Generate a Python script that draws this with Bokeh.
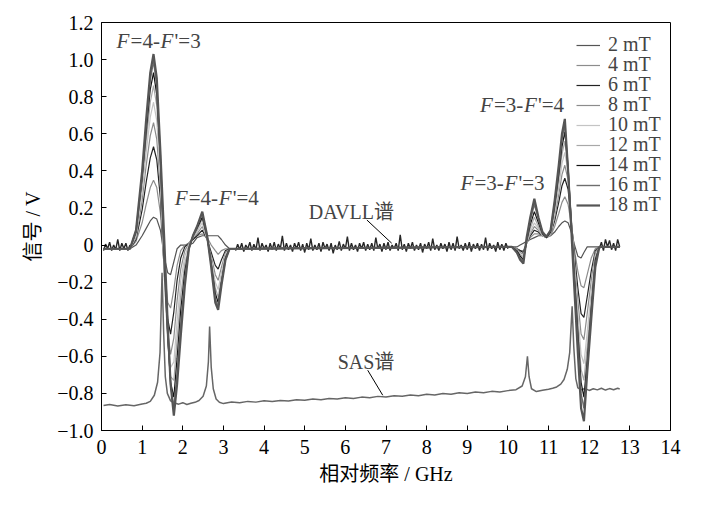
import numpy as np
from bokeh.plotting import figure
from bokeh.models import FixedTicker, CustomJSTickFormatter, Label, Legend, LegendItem
from bokeh.embed import file_html
from bokeh.resources import INLINE

# ---- data ----
fields = ["2 mT", "4 mT", "6 mT", "8 mT", "10 mT", "12 mT", "14 mT", "16 mT", "18 mT"]

# common frequency grid of the DAVLL traces (GHz)
freq = [0.05, 0.70, 0.85, 1.00, 1.10, 1.20, 1.28, 1.36, 1.45,
        1.55, 1.63, 1.70, 1.78, 1.86, 1.95, 2.05, 2.15, 2.25, 2.35,
        2.48, 2.60, 2.70, 2.80, 2.87, 2.95, 3.05, 3.15, 3.25,
        9.95, 10.10, 10.22, 10.30, 10.38, 10.46, 10.55, 10.65, 10.75, 10.85,
        10.95, 11.05, 11.15, 11.25, 11.33, 11.40, 11.48, 11.56, 11.64, 11.72,
        11.80, 11.87, 11.95, 12.05, 12.15, 12.25, 12.75]

davll_2 = [-0.02, -0.02, 0.00, 0.05, 0.09, 0.13, 0.15, 0.14, 0.08,
           -0.07, -0.15, -0.16, -0.09, -0.02, 0.00, 0.00, 0.00, 0.01, 0.04,
           0.05, 0.05, 0.05, 0.05, 0.05, 0.03, 0.00, -0.02, -0.02,
           -0.01, -0.01, -0.01, 0.00, 0.01, 0.02, 0.03, 0.04, 0.05, 0.05,
           0.05, 0.05, 0.07, 0.10, 0.12, 0.13, 0.12, 0.07, 0.00, -0.06,
           -0.07, -0.04, -0.01, -0.01, -0.01, -0.01, -0.01]
davll_4 = [-0.02, -0.02, 0.02, 0.12, 0.22, 0.31, 0.35, 0.31, 0.17,
           -0.13, -0.31, -0.34, -0.24, -0.11, -0.03, 0.00, 0.01, 0.03, 0.05,
           0.06, 0.04, 0.00, -0.03, -0.05, -0.03, -0.02, -0.02, -0.02,
           -0.01, -0.01, -0.02, -0.03, -0.03, 0.01, 0.04, 0.06, 0.06, 0.05,
           0.04, 0.05, 0.10, 0.17, 0.23, 0.26, 0.22, 0.11, -0.03, -0.14,
           -0.22, -0.23, -0.16, -0.07, -0.02, -0.01, -0.01]
davll_6 = [-0.02, -0.02, 0.03, 0.19, 0.34, 0.47, 0.53, 0.46, 0.25,
           -0.17, -0.40, -0.48, -0.36, -0.19, -0.07, -0.01, 0.01, 0.03, 0.05,
           0.08, 0.03, -0.04, -0.11, -0.13, -0.08, -0.03, -0.02, -0.02,
           -0.01, -0.01, -0.02, -0.03, -0.04, 0.01, 0.05, 0.08, 0.07, 0.05,
           0.04, 0.06, 0.13, 0.23, 0.32, 0.36, 0.30, 0.13, -0.06, -0.23,
           -0.37, -0.39, -0.28, -0.14, -0.03, -0.01, -0.01]
davll_8 = [-0.02, -0.02, 0.04, 0.24, 0.43, 0.59, 0.66, 0.57, 0.31,
           -0.19, -0.47, -0.59, -0.50, -0.30, -0.13, -0.03, 0.01, 0.04, 0.06,
           0.10, 0.03, -0.06, -0.16, -0.19, -0.12, -0.04, -0.02, -0.02,
           -0.01, -0.01, -0.02, -0.04, -0.05, 0.01, 0.06, 0.10, 0.08, 0.05,
           0.04, 0.06, 0.15, 0.27, 0.38, 0.43, 0.35, 0.14, -0.09, -0.30,
           -0.48, -0.51, -0.37, -0.19, -0.04, -0.01, -0.01]
davll_10 = [-0.02, -0.02, 0.05, 0.29, 0.50, 0.69, 0.77, 0.67, 0.36,
            -0.19, -0.51, -0.66, -0.63, -0.41, -0.19, -0.06, 0.00, 0.04, 0.07,
            0.12, 0.03, -0.08, -0.20, -0.24, -0.15, -0.05, -0.02, -0.02,
            -0.01, -0.01, -0.03, -0.05, -0.06, 0.01, 0.07, 0.12, 0.09, 0.05,
            0.04, 0.06, 0.17, 0.31, 0.44, 0.50, 0.39, 0.14, -0.12, -0.37,
            -0.59, -0.64, -0.47, -0.25, -0.06, -0.01, -0.01]
davll_12 = [-0.02, -0.02, 0.06, 0.33, 0.56, 0.77, 0.86, 0.75, 0.41,
            -0.17, -0.52, -0.71, -0.73, -0.51, -0.27, -0.10, -0.01, 0.04, 0.08,
            0.14, 0.04, -0.09, -0.23, -0.28, -0.18, -0.06, -0.02, -0.02,
            -0.01, -0.01, -0.03, -0.05, -0.07, 0.01, 0.09, 0.15, 0.10, 0.05,
            0.04, 0.07, 0.19, 0.35, 0.49, 0.56, 0.41, 0.13, -0.15, -0.42,
            -0.67, -0.73, -0.55, -0.30, -0.07, -0.01, -0.01]
davll_14 = [-0.02, -0.02, 0.07, 0.36, 0.61, 0.84, 0.93, 0.81, 0.45,
            -0.13, -0.50, -0.74, -0.82, -0.61, -0.35, -0.14, -0.02, 0.05, 0.09,
            0.15, 0.04, -0.10, -0.26, -0.31, -0.20, -0.07, -0.02, -0.02,
            -0.01, -0.01, -0.03, -0.06, -0.08, 0.02, 0.11, 0.18, 0.12, 0.06,
            0.04, 0.07, 0.21, 0.38, 0.53, 0.61, 0.42, 0.12, -0.18, -0.47,
            -0.74, -0.82, -0.62, -0.34, -0.08, -0.01, -0.01]
davll_16 = [-0.02, -0.02, 0.08, 0.38, 0.65, 0.89, 0.99, 0.86, 0.48,
            -0.07, -0.47, -0.75, -0.88, -0.69, -0.42, -0.18, -0.02, 0.05, 0.10,
            0.17, 0.05, -0.11, -0.29, -0.33, -0.21, -0.08, -0.02, -0.02,
            -0.01, -0.01, -0.04, -0.07, -0.09, 0.03, 0.13, 0.22, 0.14, 0.07,
            0.045, 0.08, 0.23, 0.41, 0.57, 0.65, 0.42, 0.10, -0.22, -0.52,
            -0.80, -0.88, -0.66, -0.37, -0.10, -0.01, -0.01]
davll_18 = [-0.02, -0.02, 0.08, 0.40, 0.68, 0.93, 1.03, 0.90, 0.50,
            0.00, -0.43, -0.75, -0.92, -0.75, -0.49, -0.22, -0.02, 0.05, 0.10,
            0.18, 0.05, -0.12, -0.31, -0.35, -0.22, -0.08, -0.02, -0.02,
            -0.01, -0.01, -0.04, -0.08, -0.10, 0.04, 0.15, 0.25, 0.15, 0.07,
            0.045, 0.08, 0.24, 0.43, 0.60, 0.68, 0.40, 0.08, -0.26, -0.58,
            -0.88, -0.95, -0.69, -0.40, -0.12, -0.01, -0.01]

# noisy DAVLL baseline, three stretches
noise_left_x = [0.05, 0.10, 0.15, 0.20, 0.25, 0.30, 0.35, 0.40, 0.45, 0.50, 0.55, 0.60, 0.65, 0.70]
noise_left_y = [-0.03, 0.005, -0.02, 0.015, -0.03, 0.00, -0.025, 0.03, -0.03, 0.01,
                -0.02, 0.01, -0.03, 0.00]
noise_mid_x = [3.30, 3.35, 3.40, 3.45, 3.50, 3.55, 3.60, 3.65, 3.70, 3.75,
               3.80, 3.85, 3.90, 3.95, 4.00, 4.05, 4.10, 4.15, 4.20, 4.25,
               4.30, 4.35, 4.40, 4.45, 4.50, 4.55, 4.60, 4.65, 4.70, 4.75,
               4.80, 4.85, 4.90, 4.95, 5.00, 5.05, 5.10, 5.15, 5.20, 5.25,
               5.30, 5.35, 5.40, 5.45, 5.50, 5.55, 5.60, 5.65, 5.70, 5.75,
               5.80, 5.85, 5.90, 5.95, 6.00, 6.05, 6.10, 6.15, 6.20, 6.25,
               6.30, 6.35, 6.40, 6.45, 6.50, 6.55, 6.60, 6.65, 6.70, 6.75,
               6.80, 6.85, 6.90, 6.95, 7.00, 7.05, 7.10, 7.15, 7.20, 7.25,
               7.30, 7.35, 7.40, 7.45, 7.50, 7.55, 7.60, 7.65, 7.70, 7.75,
               7.80, 7.85, 7.90, 7.95, 8.00, 8.05, 8.10, 8.15, 8.20, 8.25,
               8.30, 8.35, 8.40, 8.45, 8.50, 8.55, 8.60, 8.65, 8.70, 8.75,
               8.80, 8.85, 8.90, 8.95, 9.00, 9.05, 9.10, 9.15, 9.20, 9.25,
               9.30, 9.35, 9.40, 9.45, 9.50, 9.55, 9.60, 9.65, 9.70, 9.75,
               9.80, 9.85, 9.90, 9.95, 10.00]
noise_mid_y = [-0.03, 0.005, -0.025, 0.01, -0.035, 0.00, -0.02, 0.015, -0.03, 0.005,
               -0.025, 0.04, -0.03, 0.01, -0.02, 0.00, -0.035, 0.01, -0.025, 0.015,
               -0.03, 0.005, -0.02, 0.05, -0.03, 0.01, -0.025, 0.00, -0.035, 0.01,
               -0.02, 0.015, -0.03, 0.005, -0.04, 0.01, -0.025, 0.035, -0.03, 0.00,
               -0.025, 0.01, -0.035, 0.015, -0.02, 0.005, -0.03, 0.01, -0.045, 0.00,
               -0.025, 0.02, -0.03, 0.005, -0.02, 0.045, -0.03, 0.01, -0.025, 0.00,
               -0.035, 0.01, -0.02, 0.015, -0.03, 0.005, -0.025, 0.01, -0.03, 0.04,
               -0.02, 0.005, -0.035, 0.01, -0.025, 0.015, -0.03, 0.00, -0.02, 0.01,
               -0.03, 0.055, -0.025, 0.005, -0.035, 0.01, -0.02, 0.015, -0.03, 0.00,
               -0.025, 0.01, -0.04, 0.005, -0.02, 0.015, -0.03, 0.035, -0.025, 0.00,
               -0.03, 0.01, -0.02, 0.005, -0.035, 0.015, -0.025, 0.01, -0.03, 0.045,
               -0.02, 0.00, -0.03, 0.01, -0.025, 0.015, -0.035, 0.005, -0.02, 0.01,
               -0.03, 0.005, -0.025, 0.04, -0.03, 0.01, -0.02, 0.00, -0.035, 0.015,
               -0.025, 0.005, -0.03, 0.01, -0.02]
noise_right_x = [12.25, 12.30, 12.35, 12.40, 12.45, 12.50, 12.55, 12.60, 12.65, 12.70, 12.75]
noise_right_y = [-0.02, 0.015, -0.03, 0.03, -0.01, 0.025, -0.025, 0.01, -0.03, 0.03, -0.01]

# saturated absorption spectrum
sas_x = [0.05, 0.2, 0.4, 0.6, 0.8, 1.0, 1.1, 1.2, 1.3, 1.38, 1.44, 1.49, 1.53, 1.57, 1.62,
         1.7, 1.8, 1.9, 2.0, 2.1, 2.2, 2.3, 2.4, 2.5, 2.58, 2.63, 2.66, 2.70, 2.75, 2.82, 2.9, 3.0,
         3.2, 3.4, 3.6, 3.8, 4.0, 4.2, 4.4, 4.6, 4.8, 5.0, 5.2, 5.4, 5.6, 5.8, 6.0, 6.2, 6.4,
         6.6, 6.8, 7.0, 7.2, 7.4, 7.6, 7.8, 8.0, 8.2, 8.4, 8.6, 8.8, 9.0, 9.2, 9.4, 9.6, 9.8, 10.0,
         10.2, 10.35, 10.43, 10.48, 10.52, 10.58, 10.7, 10.85, 11.0, 11.1, 11.2, 11.3, 11.38,
         11.46, 11.52, 11.58, 11.62, 11.67, 11.72, 11.8, 11.9, 12.0, 12.1, 12.2, 12.3, 12.4,
         12.5, 12.6, 12.7, 12.75]
sas_y = [-0.865, -0.860, -0.868, -0.861, -0.866, -0.857, -0.853, -0.843, -0.81, -0.74, -0.58,
         -0.15, -0.48, -0.71, -0.80,
         -0.84, -0.852, -0.858, -0.850, -0.860, -0.853, -0.848, -0.838, -0.815, -0.76, -0.63,
         -0.44, -0.66, -0.775, -0.83, -0.848, -0.855,
         -0.846, -0.850, -0.843, -0.847, -0.840, -0.844, -0.838, -0.841, -0.834, -0.837, -0.830,
         -0.834, -0.827, -0.830, -0.824, -0.827, -0.820,
         -0.823, -0.816, -0.819, -0.812, -0.815, -0.809, -0.812, -0.805, -0.808, -0.801, -0.804,
         -0.797, -0.800, -0.793, -0.796, -0.789, -0.792, -0.785,
         -0.780, -0.76, -0.71, -0.60, -0.71, -0.775, -0.79, -0.783, -0.778, -0.772, -0.765,
         -0.75, -0.725,
         -0.67, -0.58, -0.33, -0.55, -0.72, -0.77, -0.78, -0.774, -0.784, -0.775, -0.781,
         -0.772, -0.782,
         -0.774, -0.780, -0.772, -0.776]

x_ticks = [0, 1, 2, 3, 4, 5, 6, 7, 8, 9, 10, 11, 12, 13, 14]
y_ticks = [-1.0, -0.8, -0.6, -0.4, -0.2, 0.0, 0.2, 0.4, 0.6, 0.8, 1.0, 1.2]

# leader lines of the two spectrum labels
davll_leader_x = [6.53, 7.14]
davll_leader_y = [0.135, 0.01]
sas_leader_x = [6.55, 6.92]
sas_leader_y = [-0.675, -0.81]

davll = [davll_2, davll_4, davll_6, davll_8, davll_10, davll_12, davll_14, davll_16, davll_18]

# ---- plot ----
SERIF = "Liberation Serif"
MIXED = "'Liberation Serif', 'Noto Sans CJK SC'"

p = figure(width=710, height=498, x_range=(0, 14), y_range=(-1.0, 1.2),
           output_backend="svg", toolbar_location=None,
           min_border_left=101, min_border_right=40, min_border_top=22, min_border_bottom=68)
p.xgrid.visible = False
p.ygrid.visible = False
p.outline_line_color = "black"
p.outline_line_width = 1
p.background_fill_color = "white"

p.xaxis.ticker = FixedTicker(ticks=x_ticks)
p.yaxis.ticker = FixedTicker(ticks=y_ticks)
p.yaxis.formatter = CustomJSTickFormatter(code="""
    if (Math.abs(tick) < 1e-9) { return "0"; }
    return (tick < 0 ? "\u2212" : "") + Math.abs(tick).toFixed(1);
""")
for ax in (p.xaxis, p.yaxis):
    ax.major_tick_in = 5
    ax.major_tick_out = 0
    ax.minor_tick_line_color = None
    ax.axis_line_color = "black"
    ax.major_tick_line_color = "black"
    ax.major_label_text_font = SERIF
    ax.major_label_text_font_size = "20px"
    ax.major_label_text_color = "black"
    ax.axis_label_text_font = MIXED
    ax.axis_label_text_font_size = "20px"
    ax.axis_label_text_font_style = "normal"
    ax.axis_label_text_color = "black"
p.xaxis.major_label_standoff = 9
p.yaxis.major_label_standoff = 8
p.xaxis.axis_label = "相对频率 / GHz"
p.yaxis.axis_label = "信号 / V"
p.xaxis.axis_label_standoff = 6
p.yaxis.axis_label_standoff = 10

# noisy baseline under the traces
p.multi_line(xs=[noise_left_x, noise_mid_x, noise_right_x],
             ys=[noise_left_y, noise_mid_y, noise_right_y],
             line_color="#262626", line_width=1.4)

p.line(sas_x, sas_y, line_color="#666666", line_width=1.5)

colors = ["#555555", "#8c8c8c", "#222222", "#8c8c8c", "#c4c4c4",
          "#a8a8a8", "#111111", "#6e6e6e", "#555555"]
widths = [1.2, 1.2, 1.2, 1.2, 1.2, 1.2, 1.2, 1.4, 2.2]
renderers = []
for ys, c, w in zip(davll, colors, widths):
    renderers.append(p.line(freq, ys, line_color=c, line_width=w))

p.line(davll_leader_x, davll_leader_y, line_color="black", line_width=1)
p.line(sas_leader_x, sas_leader_y, line_color="black", line_width=1)

# one single-row legend per field so the rows can sit 20 px apart
for i, (name, r) in enumerate(zip(fields, renderers)):
    leg = Legend(items=[LegendItem(label=name, renderers=[r])],
                 location=(475, 374 - 20 * i),
                 border_line_color=None, background_fill_alpha=0,
                 padding=0, margin=0, spacing=0,
                 glyph_width=24, glyph_height=20, label_standoff=8,
                 label_text_font=SERIF, label_text_font_size="20px")
    p.add_layout(leg, "center")


def note(x, y, parts, size=21):
    # parts: (text, italic, advance in px)
    off = 0
    for txt, ital, adv in parts:
        p.add_layout(Label(x=x, y=y, x_offset=off, text=txt,
                           text_font=SERIF, text_font_size=f"{size}px",
                           text_font_style="italic" if ital else "normal",
                           text_baseline="middle", text_align="left"))
        off += adv


def transition(x, y, lower, upper):
    note(x, y, [("F", True, 14), (f"={lower}-", False, 30), ("F", True, 14), (f"'={upper}", False, 26)])


transition(0.37, 1.10, 4, 3)
transition(1.80, 0.254, 4, 4)
transition(9.31, 0.757, 3, 4)
transition(8.83, 0.333, 3, 3)

for x, y, txt in [(5.10, 0.18, "DAVLL谱"), (5.81, -0.63, "SAS谱")]:
    p.add_layout(Label(x=x, y=y, text=txt, text_font=MIXED, text_font_size="20px",
                       text_baseline="middle", text_align="left"))

open("out.html", "w").write(file_html(p, INLINE))
